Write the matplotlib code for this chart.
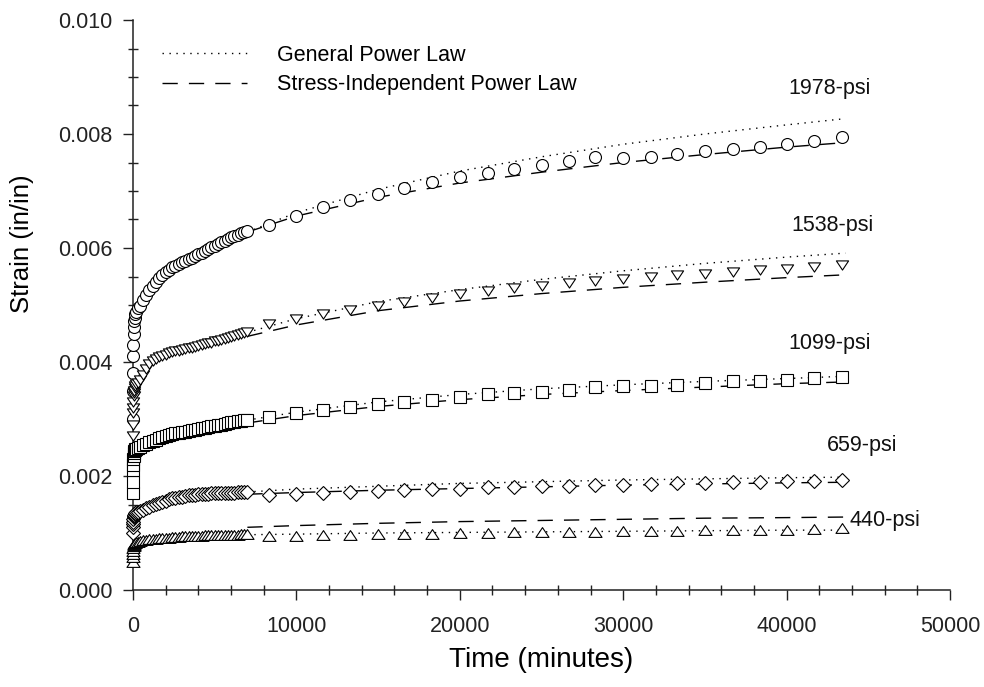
import matplotlib
matplotlib.use("Agg")
import matplotlib.pyplot as plt
from matplotlib import font_manager as fm
from matplotlib.path import Path
from matplotlib.lines import Line2D
from matplotlib.ticker import MultipleLocator, FormatStrFormatter

# ---------------------------------------------------------------- data
# creep readings: dense logging for the first ~5 days, then roughly daily
time_min = [0, 2, 5, 10, 20, 35, 50, 75, 100, 150, 200, 300,
            400, 600, 800, 1000, 1200, 1400, 1600, 1800, 2000, 2200,
            2400, 2600, 2800, 3000, 3200, 3400, 3600, 3800, 4000, 4200,
            4400, 4600, 4800, 5000, 5200, 5400, 5600, 5800, 6000, 6200,
            6400, 6600, 6800, 7000,
            8300, 10000, 11600, 13300, 15000, 16600, 18300, 20000, 21700,
            23300, 25000, 26700, 28300, 30000, 31700, 33300, 35000, 36700,
            38400, 40000, 41700, 43400]

strain_1978 = [0.0030, 0.0035, 0.0038, 0.0041, 0.0043, 0.0045, 0.00462, 0.00472,
               0.00478, 0.00484, 0.00488, 0.00494,
               0.00499, 0.00508, 0.00517, 0.00526, 0.00534, 0.00541, 0.00548,
               0.00553, 0.00558, 0.00562, 0.00566, 0.00569, 0.00572, 0.00575,
               0.00577, 0.00580, 0.00583, 0.00586, 0.00589, 0.00592, 0.00595,
               0.00598, 0.00601, 0.00604, 0.00607, 0.00610, 0.00613, 0.00616,
               0.00619, 0.00621, 0.00623, 0.00626, 0.00628, 0.00630,
               0.00640, 0.00657, 0.00672, 0.00684, 0.00695, 0.00705, 0.00716,
               0.00725, 0.00732, 0.00739, 0.00746, 0.00753, 0.00760, 0.00758,
               0.00760, 0.00765, 0.00770, 0.00774, 0.00778, 0.00783, 0.00787,
               0.00794]

strain_1538 = [0.0027, 0.0029, 0.0031, 0.0032, 0.0033, 0.0034, 0.00345, 0.0035,
               0.00354, 0.00358, 0.00361, 0.00364,
               0.00368, 0.00378, 0.00388, 0.00396, 0.00402, 0.00406, 0.00409,
               0.00411, 0.00413, 0.00415, 0.00417, 0.00419, 0.00420, 0.00421,
               0.00422, 0.00424, 0.00425, 0.00427, 0.00428, 0.00430, 0.00431,
               0.00433, 0.00434, 0.00436, 0.00437, 0.00439, 0.00440, 0.00442,
               0.00443, 0.00445, 0.00447, 0.00449, 0.00451, 0.00453,
               0.00466, 0.00476, 0.00484, 0.00492, 0.00499, 0.00506, 0.00513,
               0.00519, 0.00524, 0.00529, 0.00534, 0.00538, 0.00542, 0.00546,
               0.00549, 0.00552, 0.00555, 0.00558, 0.00561, 0.00563, 0.00566,
               0.00570]

strain_1099 = [0.0017, 0.0019, 0.0021, 0.0022, 0.0023, 0.00235, 0.0024, 0.00243,
               0.00245, 0.00247, 0.00248, 0.00250,
               0.00251, 0.00254, 0.00257, 0.00260, 0.00262, 0.00264, 0.00266,
               0.00268, 0.00270, 0.00272, 0.00273, 0.00275, 0.00276, 0.00277,
               0.00278, 0.00279, 0.00280, 0.00281, 0.00282, 0.00284, 0.00285,
               0.00286, 0.00287, 0.00288, 0.00289, 0.00290, 0.00292, 0.00293,
               0.00294, 0.00295, 0.00296, 0.00297, 0.00298, 0.00299,
               0.00304, 0.00311, 0.00316, 0.00321, 0.00326, 0.00330, 0.00334,
               0.00338, 0.00344, 0.00345, 0.00348, 0.00351, 0.00356, 0.00358,
               0.00358, 0.00359, 0.00364, 0.00367, 0.00366, 0.00368, 0.00372,
               0.00374]

strain_659 = [0.0010, 0.0011, 0.00115, 0.0012, 0.00125, 0.00128, 0.0013, 0.00132,
              0.00133, 0.00135, 0.00136, 0.00137,
              0.00138, 0.00140, 0.00143, 0.00146, 0.00149, 0.00151, 0.00153,
              0.00155, 0.00157, 0.00159, 0.00161, 0.00162, 0.00163, 0.00164,
              0.00165, 0.00166, 0.00167, 0.00167, 0.00168, 0.00168, 0.00169,
              0.00169, 0.00170, 0.00170, 0.00170, 0.00170, 0.00171, 0.00171,
              0.00171, 0.00171, 0.00172, 0.00172, 0.00172, 0.00172,
              0.00167, 0.00169, 0.00171, 0.00172, 0.00174, 0.00175, 0.00177,
              0.00178, 0.00180, 0.00181, 0.00182, 0.00183, 0.00184, 0.00185,
              0.00186, 0.00187, 0.00188, 0.00189, 0.00190, 0.00191, 0.00192,
              0.00193]

strain_440 = [0.0005, 0.00058, 0.00064, 0.00069, 0.00074, 0.00077, 0.00079, 0.00081,
              0.00082, 0.00083, 0.00084, 0.00085,
              0.00086, 0.00087, 0.00088, 0.00089, 0.00090, 0.00090, 0.00091,
              0.00091, 0.00092, 0.00092, 0.00093, 0.00093, 0.00093, 0.00094,
              0.00094, 0.00094, 0.00095, 0.00095, 0.00095, 0.00095, 0.00096,
              0.00096, 0.00096, 0.00096, 0.00096, 0.00097, 0.00097, 0.00097,
              0.00097, 0.00097, 0.00097, 0.00098, 0.00098, 0.00098,
              0.00094, 0.00095, 0.00096, 0.00097, 0.00098, 0.00098, 0.00099,
              0.00100, 0.00100, 0.00101, 0.00101, 0.00102, 0.00102, 0.00103,
              0.00104, 0.00104, 0.00105, 0.00105, 0.00106, 0.00106, 0.00107,
              0.00108]

# fitted model curves
fit_time = [7000, 10000, 15000, 20000, 25000, 30000, 35000, 40000, 43600]

general_1978 = [0.00628, 0.00662, 0.00703, 0.00735, 0.00760, 0.00782, 0.00800, 0.00816, 0.00827]
general_1538 = [0.00452, 0.00476, 0.00506, 0.00527, 0.00545, 0.00560, 0.00573, 0.00584, 0.00591]
general_1099 = [0.00298, 0.00312, 0.00330, 0.00343, 0.00353, 0.00360, 0.00366, 0.00371, 0.00375]
general_659 = [0.00172, 0.00177, 0.00182, 0.00187, 0.00190, 0.00193, 0.00195, 0.00197, 0.00198]
general_440 = [0.00097, 0.00098, 0.00100, 0.00101, 0.00102, 0.00103, 0.00104, 0.00105, 0.00105]

indep_1978 = [0.00628, 0.00656, 0.00689, 0.00714, 0.00733, 0.00750, 0.00764, 0.00777, 0.00785]
indep_1538 = [0.00445, 0.00465, 0.00490, 0.00507, 0.00520, 0.00531, 0.00540, 0.00548, 0.00553]
indep_1099 = [0.00293, 0.00306, 0.00322, 0.00334, 0.00343, 0.00350, 0.00356, 0.00362, 0.00365]
indep_659 = [0.00168, 0.00171, 0.00175, 0.00178, 0.00181, 0.00184, 0.00186, 0.00188, 0.00189]
indep_440 = [0.00110, 0.00113, 0.00117, 0.00120, 0.00122, 0.00124, 0.00126, 0.00127, 0.00128]

stress_labels = ["1978-psi", "1538-psi", "1099-psi", "659-psi", "440-psi"]
label_pos = [(42650, 0.00879), (42780, 0.00640), (42660, 0.00433),
             (44600, 0.00254), (46000, 0.00122)]

legend_labels = ["General Power Law", "Stress-Independent Power Law"]

x_ticks = [0, 10000, 20000, 30000, 40000, 50000]
y_ticks = [0.000, 0.002, 0.004, 0.006, 0.008, 0.010]

# ---------------------------------------------------------------- style
names = {f.name for f in fm.fontManager.ttflist}
if "Liberation Sans Narrow" in names:
    FAMILY, FS = "Liberation Sans Narrow", 18.5
else:
    FAMILY, FS = "Liberation Sans", 15.5
plt.rcParams["font.family"] = [FAMILY, "DejaVu Sans"]

# flattened open triangles
tri_up = Path([(-1, -0.75), (1, -0.75), (0, 0.75), (-1, -0.75)],
              [Path.MOVETO, Path.LINETO, Path.LINETO, Path.CLOSEPOLY])
tri_down = Path([(-1, 0.75), (1, 0.75), (0, -0.75), (-1, 0.75)],
                [Path.MOVETO, Path.LINETO, Path.LINETO, Path.CLOSEPOLY])

DOT = (0, (1, 4))
DASH = (0, (11, 8))

fig = plt.figure(figsize=(9.84, 6.87), dpi=100)
fig.patch.set_facecolor("white")
ax = fig.add_axes([133 / 984, 97 / 687, 817 / 984, 570 / 687])

series = [
    (strain_1978, general_1978, indep_1978, "o", 8.6),
    (strain_1538, general_1538, indep_1538, tri_down, 8.8),
    (strain_1099, general_1099, indep_1099, "s", 8.4),
    (strain_659, general_659, indep_659, "D", 7.4),
    (strain_440, general_440, indep_440, tri_up, 9.4),
]

for strain, gen, ind, mk, ms in series:
    ax.plot(fit_time, gen, linestyle=DOT, color="black", lw=1.0, zorder=2)
    ax.plot(fit_time, ind, linestyle=DASH, color="black", lw=1.0, zorder=2)
    ax.plot(time_min, strain, linestyle="none", marker=mk, ms=ms,
            mfc="white", mec="black", mew=0.8, zorder=3, clip_on=False)

for text, (x, y) in zip(stress_labels, label_pos):
    ax.text(x, y, text, ha="center", va="center", fontsize=FS, color="#111111")

handles = [Line2D([], [], color="black", lw=1.0, linestyle=DOT),
           Line2D([], [], color="black", lw=1.0, linestyle=DASH)]
ax.legend(handles, legend_labels, loc="upper left",
          bbox_to_anchor=(162 / 984, 1 - 45 / 687),
          bbox_transform=fig.transFigure, frameon=False, fontsize=FS,
          borderpad=0, borderaxespad=0, handlelength=3.95,
          handletextpad=1.4, labelspacing=0.38)

ax.set_xlim(0, 50000)
ax.set_ylim(0, 0.010)
ax.set_xticks(x_ticks)
ax.set_yticks(y_ticks)
ax.xaxis.set_minor_locator(MultipleLocator(2000))
ax.yaxis.set_minor_locator(MultipleLocator(0.0005))
ax.yaxis.set_major_formatter(FormatStrFormatter("%.3f"))
ax.xaxis.set_major_formatter(FormatStrFormatter("%d"))

for side in ("top", "right"):
    ax.spines[side].set_visible(False)
for side in ("left", "bottom"):
    ax.spines[side].set_linewidth(1.1)
    ax.spines[side].set_color("#222222")

ax.tick_params(axis="both", which="major", direction="out", length=7,
               width=1.0, color="#222222", labelsize=FS, labelcolor="#222222")
ax.tick_params(axis="x", which="major", pad=12)
ax.tick_params(axis="y", which="major", pad=8)
ax.tick_params(axis="both", which="minor", direction="inout", length=7,
               width=1.0, color="#222222")

ax.set_xlabel("Time (minutes)", fontsize=20, color="black")
ax.set_ylabel("Strain (in/in)", fontsize=18.5, color="black")
ax.xaxis.label.set_va("center")
ax.yaxis.label.set_va("center")
ax.xaxis.set_label_coords(0.5, (590 - 660) / 570)
ax.yaxis.set_label_coords((22 - 133) / 817, (590 - 244) / 570)

fig.savefig("out.png", dpi=100, facecolor="white")
